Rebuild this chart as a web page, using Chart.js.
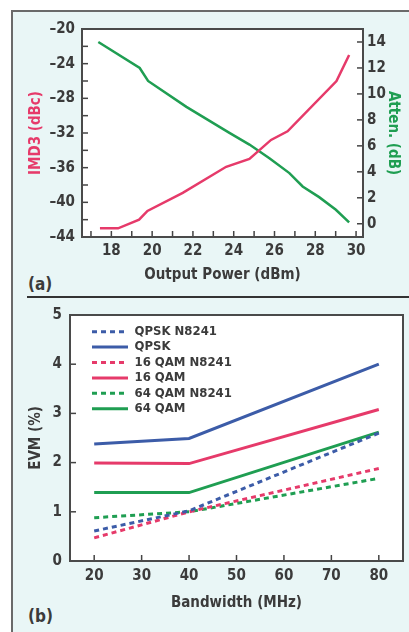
<!DOCTYPE html>
<html>
<head>
<meta charset="utf-8">
<script src="https://cdn.jsdelivr.net/npm/chart.js@4.4.1/dist/chart.umd.min.js"></script>
<style>
  body{margin:0;background:#fff;width:409px;height:632px;overflow:hidden;position:relative;
       font-family:"Liberation Sans Narrow","DejaVu Sans Condensed",sans-serif;font-weight:bold;color:#3b3b3b}
  #panel{position:absolute;left:11px;top:10px;width:420px;height:640px;background:#e9f6f6;
         border-left:2px solid #6a6a6a;border-top:2px solid #6a6a6a;box-sizing:border-box}
  #sep{position:absolute;left:27px;top:296px;width:390px;height:2px;background:#333}
  .tag{position:absolute;left:28px;font-size:17px}
  canvas{position:absolute;left:0}
</style>
</head>
<body>
<div id="panel"></div>
<div id="sep"></div>
<div class="tag" style="top:274px">(a)</div>
<div class="tag" style="top:606px">(b)</div>
<canvas id="chartA" width="409" height="296" style="top:0"></canvas>
<canvas id="chartB" width="409" height="334" style="top:298px"></canvas>
<script>
// (a) IMD3 and attenuation vs output power
const imdPower = [17.44, 18.33, 19.36, 19.77, 21.5, 23.63, 24.77, 25.83, 26.64, 29.04, 29.66];
const imd3 = [-43, -43, -42, -41, -38.9, -35.9, -35, -32.8, -31.8, -26, -23];
const attenPower = [17.36, 19.39, 19.8, 21.68, 23.79, 24.77, 25.75, 26.73, 27.38, 28.19, 29.01, 29.66];
const atten = [14, 12, 11, 9, 7, 6.1, 5.05, 3.9, 2.87, 2.05, 1.08, 0.1];

// (b) EVM vs bandwidth
const bandwidth = [20, 40, 80];
const qpskN8241 = [0.61, 1.02, 2.6];
const qpsk = [2.38, 2.49, 4.0];
const qam16N8241 = [0.47, 1.0, 1.88];
const qam16 = [1.99, 1.98, 3.08];
const qam64N8241 = [0.88, 1.0, 1.68];
const qam64 = [1.39, 1.39, 2.62];

const txt = '#3b3b3b';
const pink = '#e63a6a';
const green = '#1f9e52';
const blue = '#3c5ca8';
const fam = '"Liberation Sans Narrow", "DejaVu Sans Condensed", sans-serif';

Chart.defaults.font.family = fam;
Chart.defaults.font.weight = 'bold';
Chart.defaults.color = txt;
Chart.defaults.animation = false;

// white plot area, frame, inward tick marks, legend placed inside the plot
const frame = {
  id: 'frame',
  beforeDraw(chart) {
    const {ctx, chartArea: a} = chart;
    ctx.save();
    ctx.fillStyle = '#fff';
    ctx.fillRect(a.left, a.top, a.right - a.left, a.bottom - a.top);
    ctx.restore();
  },
  afterLayout(chart) {
    const o = chart.options.plugins.legend;
    if (o.display && o.shift) {
      chart.legend.left = chart.chartArea.left + o.shift[0];
      chart.legend.top = chart.chartArea.top + o.shift[1];
    }
  },
  afterDraw(chart) {
    const {ctx, chartArea: a} = chart;
    ctx.save();
    ctx.strokeStyle = '#444';
    ctx.lineWidth = 1.5;
    Object.values(chart.scales).forEach(s => {
      s.ticks.forEach(t => {
        const p = s.getPixelForValue(t.value);
        ctx.beginPath();
        if (s.position === 'bottom') { ctx.moveTo(p, a.bottom); ctx.lineTo(p, a.bottom - 6); }
        else if (s.position === 'left') { ctx.moveTo(a.left, p); ctx.lineTo(a.left + 6, p); }
        else { ctx.moveTo(a.right, p); ctx.lineTo(a.right - 6, p); }
        ctx.stroke();
      });
    });
    ctx.lineWidth = 2;
    ctx.strokeStyle = '#4a4a4a';
    ctx.strokeRect(a.left, a.top, a.right - a.left, a.bottom - a.top);
    ctx.restore();
  }
};

const pts = (xs, ys) => xs.map((x, i) => ({x, y: ys[i]}));
const dash = v => String(v).replace('-', '\u2013');
const noGrid = {display: false, drawTicks: false};

new Chart(document.getElementById('chartA'), {
  type: 'line',
  data: {
    datasets: [
      {label: 'IMD3', data: pts(imdPower, imd3), yAxisID: 'yL', borderColor: pink, borderWidth: 2.5, pointRadius: 0},
      {label: 'Atten.', data: pts(attenPower, atten), yAxisID: 'yR', borderColor: green, borderWidth: 2.5, pointRadius: 0}
    ]
  },
  options: {
    responsive: false,
    layout: {padding: {top: 29, left: 0, right: 0, bottom: 0}},
    plugins: {legend: {display: false}, tooltip: {enabled: false}},
    scales: {
      x: {
        type: 'linear', min: 16.56, max: 30.34,
        afterFit: s => { s.height = 59; },
        grid: noGrid, border: {display: false},
        ticks: {stepSize: 1, includeBounds: false, autoSkip: false, maxRotation: 0, padding: 5,
                font: {size: 15}, callback: v => v % 2 === 0 ? v : ''},
        title: {display: true, text: 'Output Power (dBm)', font: {size: 15}, padding: {top: 0, bottom: 12}}
      },
      yL: {
        position: 'left', min: -44, max: -20,
        afterFit: s => { s.width = 82; },
        grid: noGrid, border: {display: false},
        ticks: {stepSize: 2, autoSkip: false, padding: 7, font: {size: 15},
                callback: v => v % 4 === 0 ? dash(v) : ''},
        title: {display: true, text: 'IMD3 (dBc)', color: pink, font: {size: 15}, padding: {top: 27, bottom: 0}}
      },
      yR: {
        position: 'right', min: -1.02, max: 15,
        afterFit: s => { s.width = 46; },
        grid: noGrid, border: {display: false},
        ticks: {stepSize: 2, includeBounds: false, autoSkip: false, padding: 4, font: {size: 15}},
        title: {display: true, text: 'Atten. (dB)', color: green, font: {size: 15}, padding: {top: 7, bottom: 0}}
      }
    }
  },
  plugins: [frame]
});

const line = (label, ys, color, dashed) => ({
  label, data: pts(bandwidth, ys), borderColor: color, backgroundColor: color,
  borderWidth: 3, borderDash: dashed ? [5, 4] : [], pointRadius: 0
});

new Chart(document.getElementById('chartB'), {
  type: 'line',
  data: {
    datasets: [
      line('QPSK N8241', qpskN8241, blue, true),
      line('QPSK', qpsk, blue, false),
      line('16 QAM N8241', qam16N8241, pink, true),
      line('16 QAM', qam16, pink, false),
      line('64 QAM N8241', qam64N8241, green, true),
      line('64 QAM', qam64, green, false)
    ]
  },
  options: {
    responsive: false,
    layout: {padding: {top: 17, left: 0, right: 6, bottom: 0}},
    plugins: {
      tooltip: {enabled: false},
      legend: {
        position: 'chartArea', align: 'start', shift: [19.6, 7.8],
        labels: {
          usePointStyle: true, pointStyleWidth: 36, padding: 2.4, color: txt,
          font: {size: 13, weight: 'bold'},
          generateLabels: chart => chart.data.datasets.map((d, i) => ({
            text: d.label, fillStyle: d.borderColor, strokeStyle: d.borderColor,
            lineWidth: d.borderWidth, lineDash: d.borderDash, pointStyle: 'line',
            hidden: false, datasetIndex: i, fontColor: txt
          }))
        }
      }
    },
    scales: {
      x: {
        type: 'linear', min: 14.9, max: 85.1,
        afterFit: s => { s.height = 71; },
        grid: noGrid, border: {display: false},
        ticks: {stepSize: 10, includeBounds: false, autoSkip: false, maxRotation: 0, padding: 6.5, font: {size: 15}},
        title: {display: true, text: 'Bandwidth (MHz)', font: {size: 15}, padding: {top: 0, bottom: 20}}
      },
      y: {
        position: 'left', min: 0, max: 5,
        afterFit: s => { s.width = 70; },
        grid: noGrid, border: {display: false},
        ticks: {stepSize: 1, padding: 8, font: {size: 15}},
        title: {display: true, text: 'EVM (%)', font: {size: 15}, padding: {top: 27, bottom: 0}}
      }
    }
  },
  plugins: [frame]
});
</script>
</body>
</html>
